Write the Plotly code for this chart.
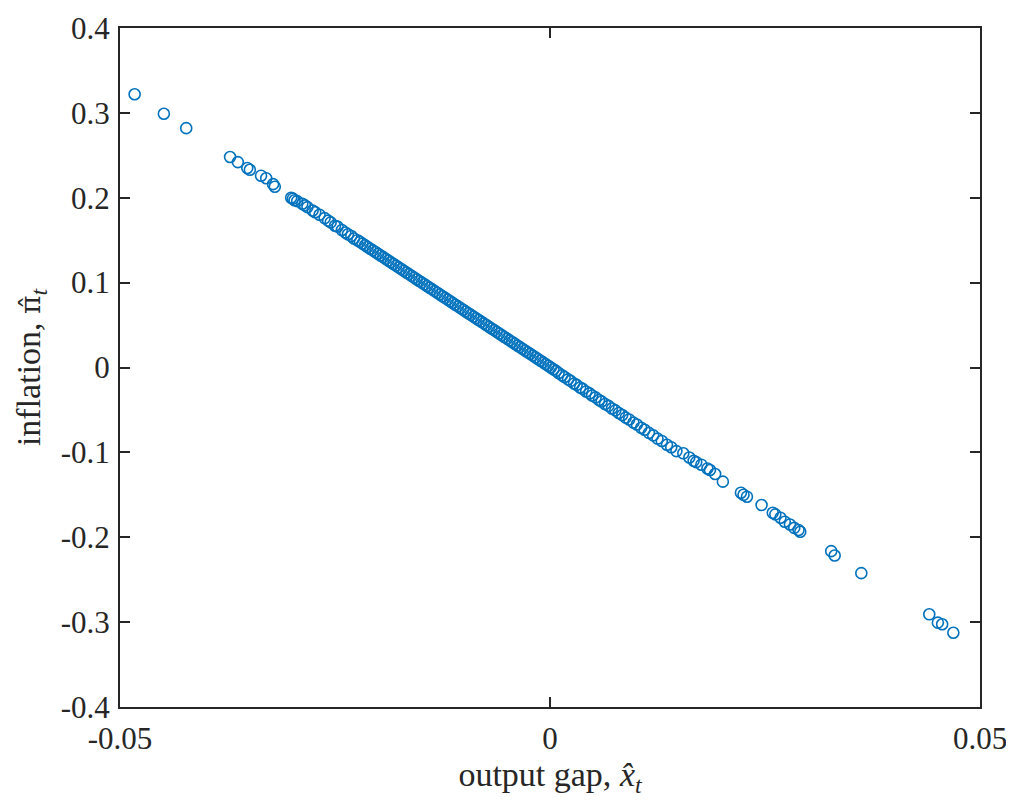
import plotly.graph_objects as go

# output gap (x) and inflation (y)
output_gap = [
    -0.0483, -0.0449, -0.0423, -0.0372, -0.0363, -0.0352, -0.0349, -0.0336, -0.0330, -0.0322, -0.0320,
    -0.0301, -0.0299, -0.0297, -0.0294, -0.0288, -0.0285, -0.0282, -0.0276, -0.0273, -0.0268,
    -0.0262, -0.0258, -0.0255, -0.0250, -0.0247, -0.0242, -0.0238, -0.0235, -0.0231, -0.0228,
    -0.0224, -0.0221, -0.0218, -0.0215, -0.0212, -0.0209, -0.0206, -0.0203, -0.0200, -0.0197,
    -0.0194, -0.0191, -0.0188, -0.0185, -0.0182, -0.0179, -0.0176, -0.0173, -0.0170, -0.0167,
    -0.0164, -0.0161, -0.0158, -0.0155, -0.0152, -0.0149, -0.0146, -0.0143, -0.0140, -0.0137,
    -0.0134, -0.0131, -0.0128, -0.0125, -0.0122, -0.0119, -0.0116, -0.0113, -0.0110, -0.0107,
    -0.0104, -0.0101, -0.0098, -0.0095, -0.0092, -0.0089, -0.0086, -0.0083, -0.0080, -0.0077,
    -0.0074, -0.0071, -0.0068, -0.0065, -0.0062, -0.0059, -0.0056, -0.0053, -0.0050, -0.0047,
    -0.0044, -0.0041, -0.0038, -0.0035, -0.0032, -0.0029, -0.0026, -0.0023, -0.0020, -0.0017,
    -0.0014, -0.0011, -0.0008, -0.0005, -0.0002, 0.0001, 0.0004, 0.0007, 0.0010, 0.0014,
    0.0017, 0.0021, 0.0024, 0.0028, 0.0031, 0.0035, 0.0038, 0.0042, 0.0046, 0.0049,
    0.0053, 0.0057, 0.0060, 0.0064, 0.0068, 0.0072, 0.0076, 0.0080, 0.0084, 0.0088,
    0.0092, 0.0097, 0.0101, 0.0106, 0.0110, 0.0115, 0.0120, 0.0125, 0.0130, 0.0136,
    0.0141, 0.0147,
    0.0155, 0.0162, 0.0167, 0.0170, 0.0176, 0.0183, 0.0186, 0.0192, 0.0201, 0.0222,
    0.0225, 0.0229, 0.0246, 0.0259, 0.0262, 0.0268, 0.0273, 0.0279, 0.0284, 0.0289,
    0.0291, 0.0327, 0.0331, 0.0362, 0.0441, 0.0451, 0.0456, 0.0469,
]
inflation = [
    0.322, 0.299, 0.282, 0.248, 0.242, 0.235, 0.233, 0.226, 0.223, 0.216, 0.213,
    0.200, 0.199, 0.197, 0.196, 0.193, 0.191, 0.189, 0.185, 0.183, 0.180,
    0.176, 0.173, 0.171, 0.167, 0.166, 0.162, 0.159, 0.157, 0.155, 0.152,
    0.150, 0.148, 0.146, 0.144, 0.142, 0.140, 0.138, 0.136, 0.134, 0.132,
    0.130, 0.128, 0.126, 0.124, 0.122, 0.120, 0.118, 0.116, 0.114, 0.112,
    0.110, 0.108, 0.106, 0.104, 0.102, 0.100, 0.098, 0.096, 0.094, 0.092,
    0.090, 0.088, 0.086, 0.084, 0.082, 0.080, 0.078, 0.076, 0.074, 0.072,
    0.070, 0.068, 0.066, 0.064, 0.062, 0.060, 0.058, 0.056, 0.054, 0.052,
    0.050, 0.048, 0.046, 0.044, 0.042, 0.040, 0.038, 0.036, 0.034, 0.032,
    0.030, 0.028, 0.026, 0.024, 0.022, 0.020, 0.018, 0.016, 0.014, 0.012,
    0.010, 0.008, 0.006, 0.004, 0.002, 0.000, -0.002, -0.004, -0.0065, -0.0092,
    -0.0112, -0.0140, -0.0158, -0.0188, -0.0205, -0.0236, -0.0252, -0.0282, -0.0305, -0.0330,
    -0.0352, -0.0383, -0.0400, -0.0430, -0.0452, -0.0483, -0.0505, -0.0536, -0.0560, -0.0590,
    -0.0612, -0.0650, -0.0672, -0.0710, -0.0733, -0.0770, -0.0800, -0.0838, -0.0866, -0.0910,
    -0.0940, -0.0985,
    -0.1011, -0.1060, -0.1100, -0.1115, -0.1145, -0.1190, -0.1208, -0.1255, -0.1345, -0.1475,
    -0.1500, -0.1522, -0.1620, -0.1712, -0.1730, -0.1770, -0.1817, -0.1850, -0.1890, -0.1915,
    -0.1935, -0.2164, -0.2215, -0.2423, -0.2908, -0.3006, -0.3025, -0.3125,
]

x_tickvals = [-0.05, 0, 0.05]
x_ticktext = ["-0.05", "0", "0.05"]
y_tickvals = [-0.4, -0.3, -0.2, -0.1, 0, 0.1, 0.2, 0.3, 0.4]
y_ticktext = ["-0.4", "-0.3", "-0.2", "-0.1", "0", "0.1", "0.2", "0.3", "0.4"]

FONT = "Liberation Serif"
AXC = "#262626"

fig = go.Figure()
fig.add_trace(go.Scatter(
    x=output_gap, y=inflation, mode="markers",
    marker=dict(symbol="circle-open", size=11, color="#0072BD",
                line=dict(width=1.6, color="#0072BD")),
    showlegend=False,
))

axis_common = dict(
    showgrid=False, zeroline=False, showline=True, linecolor=AXC, linewidth=2,
    ticks="inside", ticklen=10, tickwidth=2, tickcolor=AXC, mirror="allticks",
    tickfont=dict(family=FONT, size=31, color=AXC),
)

fig.update_layout(
    width=1006, height=792,
    margin=dict(l=112, r=34, t=20, b=93),
    plot_bgcolor="white", paper_bgcolor="white",
    xaxis=dict(range=[-0.05, 0.05], tickvals=x_tickvals, ticktext=x_ticktext,
               title=dict(text="output gap, <i>x\u0302</i><sub><i>t</i></sub>",
                          font=dict(family=FONT, size=34, color=AXC), standoff=0),
               ticklabelstandoff=3, automargin=False, **axis_common),
    yaxis=dict(range=[-0.4, 0.4], tickvals=y_tickvals, ticktext=y_ticktext,
               title=dict(text="inflation, <span style=\"font-family:'DejaVu Serif';font-size:28px\">\u03c0\u0302</span><sub><i>t</i></sub>",
                          font=dict(family=FONT, size=34, color=AXC), standoff=10),
               ticklabelstandoff=2, automargin=False, **axis_common),
)

fig.write_html("out.html")
